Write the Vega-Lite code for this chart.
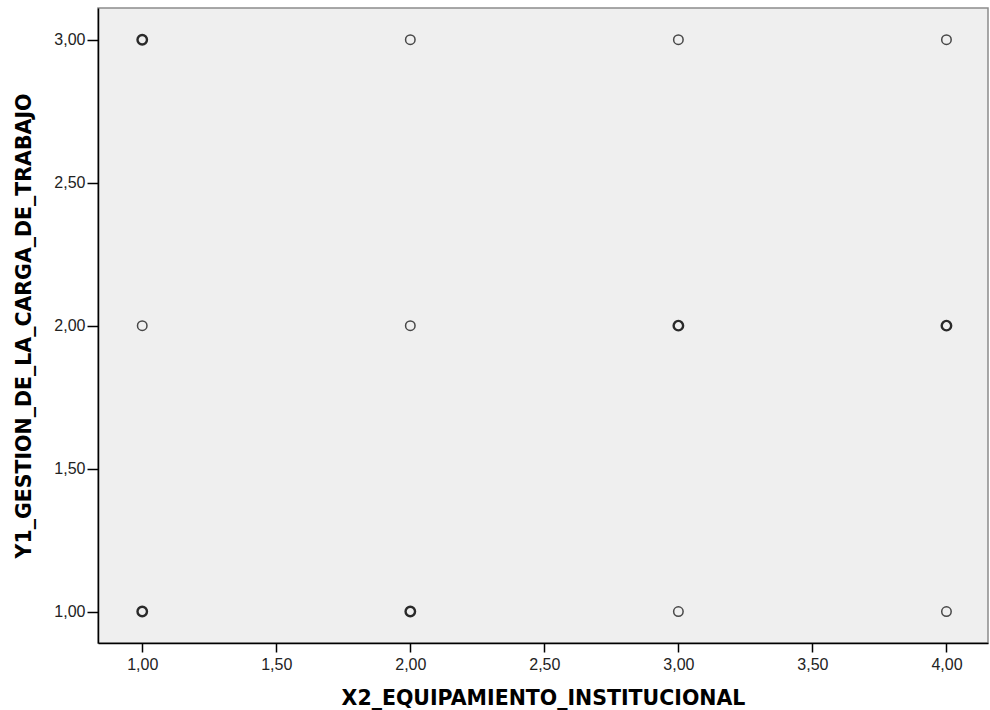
{
  "$schema": "https://vega.github.io/schema/vega-lite/v6.json",
  "autosize": "none",
  "width": 890,
  "height": 635,
  "padding": {"left": 98, "top": 8, "right": 2, "bottom": 67},
  "background": "white",
  "config": {
    "view": {"fill": "#efefef", "stroke": "#8c8c8c", "strokeWidth": 1.5},
    "axis": {
      "grid": false,
      "domainColor": "#000000",
      "domainWidth": 1.5,
      "tickColor": "#000000",
      "tickWidth": 1.5,
      "labelFont": "Liberation Sans",
      "labelFontSize": 16,
      "labelColor": "#222222",
      "titleFont": "DejaVu Sans",
      "titleFontWeight": "bold",
      "titleFontSize": 20.5,
      "titleColor": "#000000"
    }
  },
  "data": {
    "values": [
      {"X2_EQUIPAMIENTO_INSTITUCIONAL": 1, "Y1_GESTION_DE_LA_CARGA_DE_TRABAJO": 3},
      {"X2_EQUIPAMIENTO_INSTITUCIONAL": 1, "Y1_GESTION_DE_LA_CARGA_DE_TRABAJO": 3},
      {"X2_EQUIPAMIENTO_INSTITUCIONAL": 1, "Y1_GESTION_DE_LA_CARGA_DE_TRABAJO": 3},
      {"X2_EQUIPAMIENTO_INSTITUCIONAL": 2, "Y1_GESTION_DE_LA_CARGA_DE_TRABAJO": 3},
      {"X2_EQUIPAMIENTO_INSTITUCIONAL": 3, "Y1_GESTION_DE_LA_CARGA_DE_TRABAJO": 3},
      {"X2_EQUIPAMIENTO_INSTITUCIONAL": 4, "Y1_GESTION_DE_LA_CARGA_DE_TRABAJO": 3},
      {"X2_EQUIPAMIENTO_INSTITUCIONAL": 1, "Y1_GESTION_DE_LA_CARGA_DE_TRABAJO": 2},
      {"X2_EQUIPAMIENTO_INSTITUCIONAL": 2, "Y1_GESTION_DE_LA_CARGA_DE_TRABAJO": 2},
      {"X2_EQUIPAMIENTO_INSTITUCIONAL": 3, "Y1_GESTION_DE_LA_CARGA_DE_TRABAJO": 2},
      {"X2_EQUIPAMIENTO_INSTITUCIONAL": 3, "Y1_GESTION_DE_LA_CARGA_DE_TRABAJO": 2},
      {"X2_EQUIPAMIENTO_INSTITUCIONAL": 3, "Y1_GESTION_DE_LA_CARGA_DE_TRABAJO": 2},
      {"X2_EQUIPAMIENTO_INSTITUCIONAL": 4, "Y1_GESTION_DE_LA_CARGA_DE_TRABAJO": 2},
      {"X2_EQUIPAMIENTO_INSTITUCIONAL": 4, "Y1_GESTION_DE_LA_CARGA_DE_TRABAJO": 2},
      {"X2_EQUIPAMIENTO_INSTITUCIONAL": 4, "Y1_GESTION_DE_LA_CARGA_DE_TRABAJO": 2},
      {"X2_EQUIPAMIENTO_INSTITUCIONAL": 1, "Y1_GESTION_DE_LA_CARGA_DE_TRABAJO": 1},
      {"X2_EQUIPAMIENTO_INSTITUCIONAL": 1, "Y1_GESTION_DE_LA_CARGA_DE_TRABAJO": 1},
      {"X2_EQUIPAMIENTO_INSTITUCIONAL": 1, "Y1_GESTION_DE_LA_CARGA_DE_TRABAJO": 1},
      {"X2_EQUIPAMIENTO_INSTITUCIONAL": 2, "Y1_GESTION_DE_LA_CARGA_DE_TRABAJO": 1},
      {"X2_EQUIPAMIENTO_INSTITUCIONAL": 2, "Y1_GESTION_DE_LA_CARGA_DE_TRABAJO": 1},
      {"X2_EQUIPAMIENTO_INSTITUCIONAL": 2, "Y1_GESTION_DE_LA_CARGA_DE_TRABAJO": 1},
      {"X2_EQUIPAMIENTO_INSTITUCIONAL": 3, "Y1_GESTION_DE_LA_CARGA_DE_TRABAJO": 1},
      {"X2_EQUIPAMIENTO_INSTITUCIONAL": 4, "Y1_GESTION_DE_LA_CARGA_DE_TRABAJO": 1}
    ]
  },
  "mark": {"type": "point", "shape": "circle", "filled": false, "size": 90, "stroke": "#2a2a2a"},
  "encoding": {
    "x": {
      "field": "X2_EQUIPAMIENTO_INSTITUCIONAL",
      "type": "quantitative",
      "scale": {"domain": [0.835, 4.155], "nice": false, "zero": false},
      "axis": {
        "values": [1, 1.5, 2, 2.5, 3, 3.5, 4],
        "labelExpr": "replace(format(datum.value, '.2f'), '.', ',')",
        "tickSize": 9,
        "labelPadding": 4,
        "titlePadding": 16
      }
    },
    "y": {
      "field": "Y1_GESTION_DE_LA_CARGA_DE_TRABAJO",
      "type": "quantitative",
      "scale": {"domain": [0.89, 3.111], "nice": false, "zero": false},
      "axis": {
        "values": [1, 1.5, 2, 2.5, 3],
        "labelExpr": "replace(format(datum.value, '.2f'), '.', ',')",
        "tickSize": 11,
        "labelPadding": 2,
        "titlePadding": 19
      }
    },
    "strokeWidth": {
      "aggregate": "count",
      "type": "quantitative",
      "scale": {"domain": [1, 3], "range": [1.5, 2.4]},
      "legend": null
    },
    "opacity": {
      "aggregate": "count",
      "type": "quantitative",
      "scale": {"domain": [1, 3], "range": [0.85, 1]},
      "legend": null
    }
  }
}
